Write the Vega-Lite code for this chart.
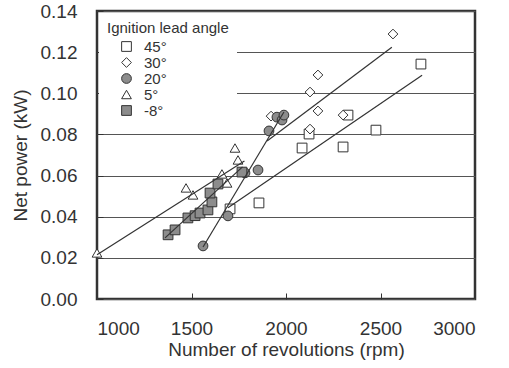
{
  "$schema": "https://vega.github.io/schema/vega-lite/v6.json",
  "width": 378,
  "height": 288,
  "autosize": "none",
  "padding": {"left": 97, "top": 11, "right": 34, "bottom": 69},
  "background": "white",
  "config": {
    "font": "Liberation Sans",
    "view": {"stroke": "#333", "strokeWidth": 2.5},
    "axis": {
      "domain": false,
      "labelFontSize": 19,
      "labelColor": "#333",
      "titleFontSize": 19,
      "titleFontWeight": "normal",
      "titleColor": "#333",
      "tickColor": "#333",
      "tickSize": -6,
      "tickWidth": 1,
      "labelPadding": 26
    },
    "legend": {
      "orient": "none",
      "legendX": 2,
      "legendY": 2,
      "fillColor": "white",
      "padding": 8,
      "titleFontSize": 15,
      "titleFontWeight": "normal",
      "titleColor": "#333",
      "titlePadding": 3,
      "labelFontSize": 15,
      "labelColor": "#333",
      "rowPadding": 0,
      "symbolOffset": 12,
      "labelOffset": 10,
      "symbolSize": 95,
      "symbolStrokeWidth": 1
    }
  },
  "datasets": {
    "points": [
      {"angle": "45°", "rpm": 1704, "power": 0.0438},
      {"angle": "45°", "rpm": 1857, "power": 0.0467},
      {"angle": "45°", "rpm": 2085, "power": 0.0734},
      {"angle": "45°", "rpm": 2122, "power": 0.0802},
      {"angle": "45°", "rpm": 2302, "power": 0.0739},
      {"angle": "45°", "rpm": 2328, "power": 0.0894},
      {"angle": "45°", "rpm": 2476, "power": 0.0821},
      {"angle": "45°", "rpm": 2714, "power": 0.1142},
      {"angle": "30°", "rpm": 1921, "power": 0.0889},
      {"angle": "30°", "rpm": 2127, "power": 0.1006},
      {"angle": "30°", "rpm": 2169, "power": 0.1089},
      {"angle": "30°", "rpm": 2169, "power": 0.0914},
      {"angle": "30°", "rpm": 2302, "power": 0.0894},
      {"angle": "30°", "rpm": 2127, "power": 0.0826},
      {"angle": "30°", "rpm": 2566, "power": 0.1288},
      {"angle": "20°", "rpm": 1561, "power": 0.0258},
      {"angle": "20°", "rpm": 1693, "power": 0.0404},
      {"angle": "20°", "rpm": 1783, "power": 0.0613},
      {"angle": "20°", "rpm": 1852, "power": 0.0627},
      {"angle": "20°", "rpm": 1910, "power": 0.0817},
      {"angle": "20°", "rpm": 1952, "power": 0.0884},
      {"angle": "20°", "rpm": 1979, "power": 0.0870},
      {"angle": "20°", "rpm": 1989, "power": 0.0894},
      {"angle": "5°", "rpm": 1000, "power": 0.0224},
      {"angle": "5°", "rpm": 1471, "power": 0.0540},
      {"angle": "5°", "rpm": 1508, "power": 0.0506},
      {"angle": "5°", "rpm": 1661, "power": 0.0608},
      {"angle": "5°", "rpm": 1688, "power": 0.0564},
      {"angle": "5°", "rpm": 1730, "power": 0.0734},
      {"angle": "5°", "rpm": 1746, "power": 0.0676},
      {"angle": "-8°", "rpm": 1376, "power": 0.0312},
      {"angle": "-8°", "rpm": 1413, "power": 0.0336},
      {"angle": "-8°", "rpm": 1481, "power": 0.0394},
      {"angle": "-8°", "rpm": 1519, "power": 0.0405},
      {"angle": "-8°", "rpm": 1545, "power": 0.0418},
      {"angle": "-8°", "rpm": 1587, "power": 0.0433},
      {"angle": "-8°", "rpm": 1608, "power": 0.0472},
      {"angle": "-8°", "rpm": 1598, "power": 0.0515},
      {"angle": "-8°", "rpm": 1640, "power": 0.0559},
      {"angle": "-8°", "rpm": 1767, "power": 0.0617}
    ],
    "lines": [
      {"angle": "5°", "rpm": 1000, "power": 0.0215},
      {"angle": "5°", "rpm": 1780, "power": 0.0671},
      {"angle": "30°", "rpm": 1900, "power": 0.0768},
      {"angle": "30°", "rpm": 2560, "power": 0.1224},
      {"angle": "45°", "rpm": 1693, "power": 0.0443},
      {"angle": "45°", "rpm": 2720, "power": 0.1088},
      {"angle": "20°", "rpm": 1561, "power": 0.0253},
      {"angle": "20°", "rpm": 1989, "power": 0.0909},
      {"angle": "-8°", "rpm": 1360, "power": 0.0297},
      {"angle": "-8°", "rpm": 1770, "power": 0.0642}
    ]
  },
  "layer": [
    {
      "data": {"name": "points"},
      "mark": {"type": "point", "filled": true, "size": 95, "strokeWidth": 1, "opacity": 1},
      "encoding": {
        "x": {
          "field": "rpm", "type": "quantitative",
          "scale": {"domain": [1000, 3000], "nice": false},
          "axis": {"values": [1000, 1500, 2000, 2500, 3000], "format": "d", "grid": false, "title": "Number of revolutions (rpm)", "titlePadding": 2}
        },
        "y": {
          "field": "power", "type": "quantitative",
          "scale": {"domain": [0, 0.14], "nice": false},
          "axis": {"values": [0, 0.02, 0.04, 0.06, 0.08, 0.1, 0.12, 0.14], "format": ".2f", "grid": true, "gridColor": "#555", "gridWidth": 1, "title": "Net power (kW)", "titlePadding": 10}
        },
        "shape": {
          "field": "angle", "type": "nominal",
          "scale": {"domain": ["45°", "30°", "20°", "5°", "-8°"], "range": ["square", "diamond", "circle", "triangle-up", "square"]},
          "legend": {"title": "Ignition lead angle"}
        },
        "fill": {
          "field": "angle", "type": "nominal",
          "scale": {"domain": ["45°", "30°", "20°", "5°", "-8°"], "range": ["white", "white", "#8c8c8c", "white", "#8c8c8c"]},
          "legend": {"title": "Ignition lead angle"}
        },
        "stroke": {
          "field": "angle", "type": "nominal",
          "scale": {"domain": ["45°", "30°", "20°", "5°", "-8°"], "range": ["#333", "#333", "#333", "#333", "#333"]},
          "legend": {"title": "Ignition lead angle"}
        }
      }
    },
    {
      "data": {"name": "lines"},
      "mark": {"type": "line", "color": "#333", "strokeWidth": 1.2},
      "encoding": {
        "x": {"field": "rpm", "type": "quantitative"},
        "y": {"field": "power", "type": "quantitative"},
        "detail": {"field": "angle", "type": "nominal"}
      }
    }
  ]
}
